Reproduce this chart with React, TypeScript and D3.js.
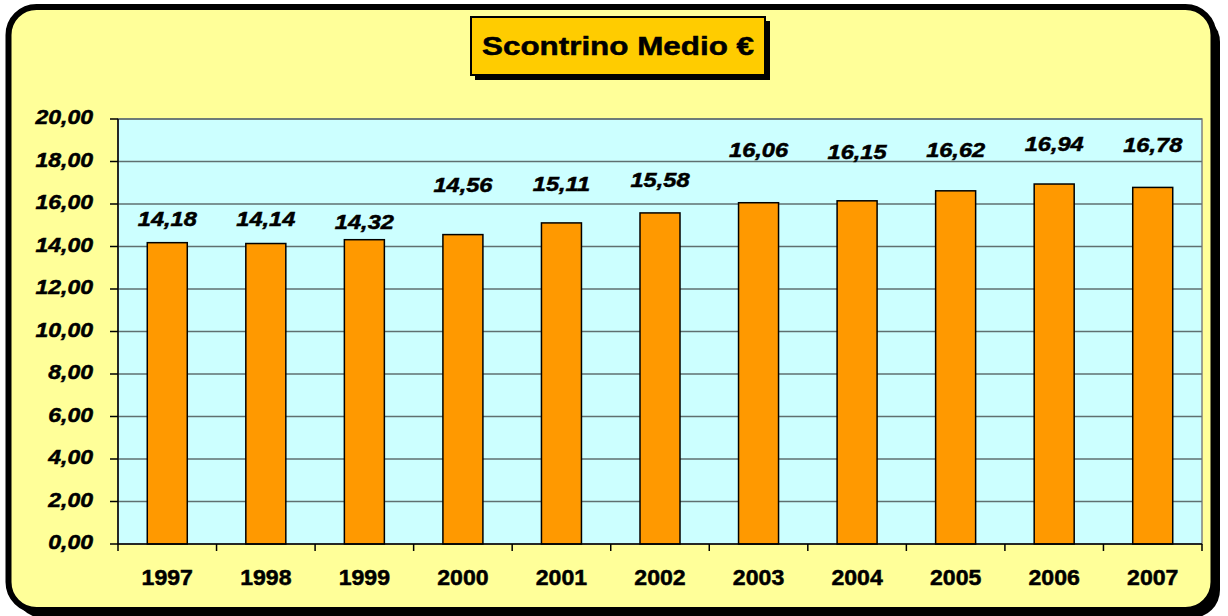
import React from 'react';
import * as d3 from 'd3';

// chart data
const years = ['1997', '1998', '1999', '2000', '2001', '2002', '2003', '2004', '2005', '2006', '2007'];
const values = [14.18, 14.14, 14.32, 14.56, 15.11, 15.58, 16.06, 16.15, 16.62, 16.94, 16.78];
// where each value label sits (in value units), as placed in the original
const labelAt = [15.29, 15.29, 15.15, 16.9, 16.94, 17.13, 18.54, 18.45, 18.54, 18.84, 18.78];
const yTicks = [0, 2, 4, 6, 8, 10, 12, 14, 16, 18, 20];
const title = 'Scontrino Medio €';

const W = 1228;
const H = 616;
const plot = { left: 118, top: 119, right: 1202, bottom: 544 };
const fmt = (v: number) => v.toFixed(2).replace('.', ',');
const font = '"Liberation Sans", Arial, sans-serif';

export default function App() {
  const x = d3.scaleBand<string>()
    .domain(years)
    .range([plot.left, plot.right])
    .paddingInner(0)
    .paddingOuter(0);

  const y = d3.scaleLinear()
    .domain([0, 20])
    .range([plot.bottom, plot.top]);

  const barW = 40;
  const bounds = years.map(yr => x(yr)!).concat([plot.right]);
  const heavy = { stroke: '#000', strokeWidth: 0.5 };

  return (
    <svg width={W} height={H} style={{ position: 'absolute', left: 0, top: 0, fontFamily: font }}>
      <rect width={W} height={H} fill="#fff" />
      {/* frame with shadow */}
      <rect x={15} y={14} width={1205} height={604} rx={28} fill="#000" />
      <rect x={8.5} y={7} width={1205} height={603} rx={28} fill="#FFFF99" stroke="#000" strokeWidth={6} />

      {/* title box */}
      <rect x={475} y={21} width={295} height={59} fill="#000" />
      <rect x={471} y={17} width={294} height={58} fill="#FFCC00" stroke="#000" strokeWidth={2} />
      <text x={618} y={55} textAnchor="middle" fontSize={25} fontWeight="bold" {...heavy}
        textLength={272} lengthAdjust="spacingAndGlyphs">{title}</text>

      {/* plot area */}
      <rect x={plot.left} y={plot.top} width={plot.right - plot.left} height={plot.bottom - plot.top}
        fill="#CCFFFF" stroke="#808080" strokeWidth={1.5} />
      {yTicks.filter(t => t > 0).map(t => (
        <line key={t} x1={plot.left} x2={plot.right} y1={y(t)} y2={y(t)} stroke="#5f7070" strokeWidth={1.5} />
      ))}

      {/* bars */}
      {years.map((yr, i) => {
        const cx = x(yr)! + x.bandwidth() / 2;
        return (
          <rect key={yr} x={cx - barW / 2} y={y(values[i])} width={barW} height={y(0) - y(values[i])}
            fill="#FF9900" stroke="#000" strokeWidth={1.5} />
        );
      })}

      {/* axes */}
      <line x1={plot.left} x2={plot.left} y1={plot.top} y2={plot.bottom} stroke="#000" strokeWidth={1.5} />
      <line x1={plot.left} x2={plot.right} y1={plot.bottom} y2={plot.bottom} stroke="#000" strokeWidth={1.5} />
      {yTicks.map(t => (
        <g key={t}>
          <line x1={plot.left - 8} x2={plot.left} y1={y(t)} y2={y(t)} stroke="#000" strokeWidth={1.5} />
          <text transform={`translate(93,${y(t) + 5}) scale(1.15,1)`} textAnchor="end" fontSize={20}
            fontWeight="bold" fontStyle="italic" {...heavy}>{fmt(t)}</text>
        </g>
      ))}
      {bounds.map((b, i) => (
        <line key={i} x1={b} x2={b} y1={plot.bottom} y2={plot.bottom + 7} stroke="#000" strokeWidth={1.5} />
      ))}
      {years.map(yr => (
        <text key={yr} transform={`translate(${x(yr)! + x.bandwidth() / 2},585) scale(1.05,1)`}
          textAnchor="middle" fontSize={22} fontWeight="bold" {...heavy}>{yr}</text>
      ))}

      {/* value labels */}
      {years.map((yr, i) => (
        <text key={yr} transform={`translate(${x(yr)! + x.bandwidth() / 2},${y(labelAt[i]) + 7}) scale(1.18,1)`}
          textAnchor="middle" fontSize={20} fontWeight="bold" fontStyle="italic" {...heavy}>{fmt(values[i])}</text>
      ))}
    </svg>
  );
}
